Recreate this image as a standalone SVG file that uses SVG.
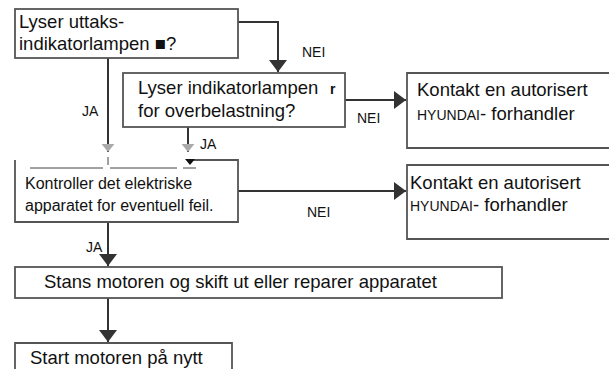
<svg xmlns="http://www.w3.org/2000/svg" width="609" height="369" viewBox="0 0 609 369">
<style>
.box{fill:#fff;stroke:#555;stroke-width:1.8}
.ln{fill:none;stroke:#333;stroke-width:2}
.t{font-family:"Liberation Sans",Arial,sans-serif;fill:#111}
.b{font-size:18.5px}
.m{font-size:16px}
.s{font-size:14px}
</style>
<defs>
<marker id="ah" viewBox="0 0 12 18" refX="12" refY="9" markerWidth="6" markerHeight="9" orient="auto" markerUnits="strokeWidth">
<path d="M0,0 L12,9 L0,18 z" fill="#333"/>
</marker>
<marker id="ahg" viewBox="0 0 10 16" refX="10" refY="8" markerWidth="4" markerHeight="7" orient="auto" markerUnits="strokeWidth">
<path d="M0,0 L10,8 L0,16 z" fill="#aaa"/>
</marker>
</defs>
<rect width="609" height="369" fill="#fff"/>
<g id="connectors">
<path class="ln" d="M238,22 H278 V72" marker-end="url(#ah)"/>
<path class="ln" d="M345,100 H406" marker-end="url(#ah)"/>
<path class="ln" d="M108,58 V152" marker-end="url(#ahg)"/>
<path class="ln" d="M188,127 V152" marker-end="url(#ahg)"/>
<path class="ln" d="M238,191 H406" marker-end="url(#ah)"/>
<path class="ln" d="M108,222 V266" marker-end="url(#ah)"/>
<path class="ln" d="M108,298 V342" marker-end="url(#ah)"/>
<text class="t s" x="302" y="57">NEI</text>
<text class="t s" x="357" y="123">NEI</text>
<text class="t s" x="307" y="217">NEI</text>
<text class="t s" x="82" y="116">JA</text>
<text class="t s" x="200" y="149">JA</text>
<text class="t s" x="86" y="252">JA</text>
</g>
<g id="n1">
<rect class="box" x="15" y="9" width="223" height="49"/>
<text class="t b" x="19" y="28">Lyser uttaks-</text>
<text class="t b" x="19" y="50">indikatorlampen ■?</text>
</g>
<g id="n2">
<rect class="box" x="123" y="73" width="222" height="54"/>
<text class="t b" x="138" y="94">Lyser indikatorlampen</text>
<text class="t" x="330" y="94" font-size="14" font-weight="bold" fill="#888">r</text>
<text class="t b" x="138" y="117">for overbelastning?</text>
</g>
<g id="n3">
<path class="box" d="M615,73 H407 V148 H615"/>
<text class="t b" x="417" y="96">Kontakt en autorisert</text>
<text class="t" x="417" y="120"><tspan font-size="14">HYUNDAI</tspan><tspan font-size="18.5">- forhandler</tspan></text>
</g>
<g id="n4">
<path class="box" d="M193,160 H238 V222 H15 V160"/>
<path fill="none" stroke="#444" stroke-width="1" d="M30,168 H103 M110,168 H177 M183,168 H196 M108,157 V165"/>
<path d="M185,159 H195 L190,165 z" fill="#111"/>
<text class="t m" x="25" y="189">Kontroller det elektriske</text>
<text class="t m" x="25" y="211">apparatet for eventuell feil.</text>
</g>
<g id="n5">
<path class="box" d="M615,165 H407 V239 H615"/>
<text class="t b" x="410" y="189">Kontakt en autorisert</text>
<text class="t" x="410" y="211"><tspan font-size="14">HYUNDAI</tspan><tspan font-size="18.5">- forhandler</tspan></text>
</g>
<g id="n6">
<rect class="box" x="15" y="267" width="487" height="31"/>
<text class="t b" x="44" y="288">Stans motoren og skift ut eller reparer apparatet</text>
</g>
<g id="n7">
<path class="box" d="M15,375 V343 H232 V375"/>
<text class="t b" x="30" y="364">Start motoren på nytt</text>
</g>
</svg>
